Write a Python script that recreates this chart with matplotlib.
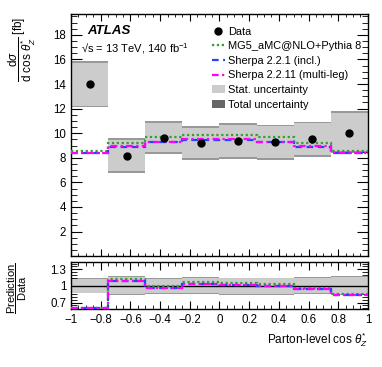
import numpy as np
import matplotlib
matplotlib.use("Agg")
import matplotlib.pyplot as plt
from matplotlib.ticker import MultipleLocator, FixedLocator
from matplotlib.lines import Line2D
from matplotlib.patches import Patch

plt.rcParams['font.family'] = ['Liberation Sans', 'DejaVu Sans']
plt.rcParams['mathtext.fontset'] = 'custom'
plt.rcParams['mathtext.rm'] = 'Liberation Sans'
plt.rcParams['mathtext.it'] = 'Liberation Sans:italic'

bin_edges = [-1.0, -0.75, -0.5, -0.25, 0.0, 0.25, 0.5, 0.75, 1.0]
data = [14.0, 8.15, 9.65, 9.17, 9.38, 9.3, 9.5, 10.05]
stat_up = [15.75, 9.45, 10.85, 10.45, 10.65, 10.55, 10.8, 11.65]
stat_dn = [12.25, 6.95, 8.45, 7.95, 8.05, 8.0, 8.25, 8.55]
tot_up = [15.9, 9.6, 11.0, 10.6, 10.8, 10.7, 10.95, 11.8]
tot_dn = [12.1, 6.8, 8.3, 7.8, 7.9, 7.85, 8.1, 8.4]
mg5 = [8.55, 9.22, 9.68, 9.86, 9.86, 9.68, 9.22, 8.55]
sherpa221 = [8.35, 8.9, 9.27, 9.48, 9.48, 9.27, 8.9, 8.35]
sherpa2211 = [8.38, 8.92, 9.3, 9.5, 9.5, 9.3, 8.92, 8.38]

edges = np.array(bin_edges)
centers = 0.5 * (edges[:-1] + edges[1:])
d = np.array(data)

C_STAT = '#cccccc'
C_MG5 = '#33a02c'
C_S221 = '#2244ff'
C_S2211 = '#ff00ff'
LS_MG5 = (0, (1, 1.2))
LS_S221 = (0, (3, 2))
LS_S2211 = (0, (3, 1.5, 1, 1.5))

fig = plt.figure(figsize=(3.82, 3.67), dpi=100)
ax = fig.add_axes([0.186, 0.302, 0.777, 0.660])
rax = fig.add_axes([0.186, 0.158, 0.777, 0.128])

def band(a, lo, hi, color, z):
    for i in range(len(lo)):
        a.fill_between([edges[i], edges[i+1]], lo[i], hi[i], color=color,
                       lw=0, zorder=z)

band(ax, tot_dn, tot_up, '#999999', 1)
band(ax, stat_dn, stat_up, C_STAT, 2)

ax.stairs(mg5, edges, color=C_MG5, lw=1.6, ls=LS_MG5, baseline=None, zorder=3)
ax.stairs(sherpa221, edges, color=C_S221, lw=1.6, ls=LS_S221, baseline=None, zorder=4)
ax.stairs(sherpa2211, edges, color=C_S2211, lw=1.6, ls=LS_S2211, baseline=None, zorder=5)
ax.plot(centers, d, 'o', color='black', ms=5, zorder=6)

ax.set_xlim(-1, 1)
ax.set_ylim(0, 19.7)
ax.yaxis.set_major_locator(FixedLocator([2, 4, 6, 8, 10, 12, 14, 16, 18]))
ax.yaxis.set_minor_locator(MultipleLocator(0.5))
ax.xaxis.set_major_locator(MultipleLocator(0.2))
ax.xaxis.set_minor_locator(MultipleLocator(0.05))
ax.tick_params(axis='both', which='both', direction='in', top=True, right=True, labelsize=8.3)
ax.tick_params(axis='y', which='major', length=8)
ax.tick_params(axis='y', which='minor', length=4)
ax.tick_params(axis='x', which='major', length=5)
ax.tick_params(axis='x', which='minor', length=2.5)
ax.tick_params(axis='x', labelbottom=False)
ax.set_ylabel(r'$\dfrac{\mathrm{d}\sigma}{\mathrm{d\ cos\ }\theta^{*}_{Z}}$ [fb]', fontsize=8.5)
ax.yaxis.set_label_coords(-0.11, 0.855)

ax.text(0.055, 0.917, 'ATLAS', transform=ax.transAxes, fontsize=9.5, fontweight='bold', style='italic')
ax.text(0.035, 0.84, '\u221As = 13 TeV, 140 fb$^{-1}$', transform=ax.transAxes, fontsize=8)

handles = [
    Line2D([], [], marker='o', color='black', ls='none', ms=5),
    Line2D([], [], color=C_MG5, lw=1.6, ls=LS_MG5),
    Line2D([], [], color=C_S221, lw=1.6, ls=LS_S221),
    Line2D([], [], color=C_S2211, lw=1.6, ls=LS_S2211),
    Patch(facecolor=C_STAT, edgecolor='none'),
    Patch(facecolor='#666666', edgecolor='none'),
]
labels = ['Data', 'MG5_aMC@NLO+Pythia 8', 'Sherpa 2.2.1 (incl.)',
          'Sherpa 2.2.11 (multi-leg)', 'Stat. uncertainty', 'Total uncertainty']
ax.legend(handles, labels, loc='upper right', bbox_to_anchor=(1.0, 0.975), frameon=False,
          fontsize=7.9, handlelength=1.2, handletextpad=0.3, labelspacing=0.42,
          borderaxespad=0.2)

# ratio panel
band(rax, np.array(tot_dn) / d, np.array(tot_up) / d, '#999999', 1)
band(rax, np.array(stat_dn) / d, np.array(stat_up) / d, C_STAT, 2)
rax.axhline(1.0, color='black', lw=1.0, zorder=3)
rax.stairs(np.array(mg5) / d, edges, color=C_MG5, lw=1.6, ls=LS_MG5, baseline=None, zorder=4)
rax.stairs(np.array(sherpa221) / d, edges, color=C_S221, lw=1.6, ls=LS_S221, baseline=None, zorder=5)
rax.stairs(np.array(sherpa2211) / d, edges, color=C_S2211, lw=1.6, ls=LS_S2211, baseline=None, zorder=6)
rax.set_xlim(-1, 1)
rax.set_ylim(0.585, 1.43)
rax.yaxis.set_major_locator(FixedLocator([0.7, 1.0, 1.3]))
rax.yaxis.set_major_formatter(matplotlib.ticker.FixedFormatter(['0.7', '1', '1.3']))
rax.yaxis.set_minor_locator(MultipleLocator(0.05))
rax.xaxis.set_major_locator(MultipleLocator(0.2))
rax.xaxis.set_minor_locator(MultipleLocator(0.05))
rax.xaxis.set_major_formatter(matplotlib.ticker.FuncFormatter(
    lambda v, p: ('\u2212' if v < -1e-9 else '') + ('%g' % abs(round(v, 2)))))
rax.tick_params(axis='both', which='both', direction='in', top=True, right=True, labelsize=8.3)
rax.tick_params(axis='y', which='major', length=8)
rax.tick_params(axis='y', which='minor', length=4)
rax.tick_params(axis='x', which='major', length=6)
rax.tick_params(axis='x', which='minor', length=3)
rax.set_ylabel(r'$\dfrac{\mathrm{Prediction}}{\mathrm{Data}}$', fontsize=8)
rax.yaxis.set_label_coords(-0.14, 0.45)
rax.set_xlabel(r'Parton-level cos $\theta^{*}_{Z}$', fontsize=8.5, loc='right', labelpad=3)

for a in (ax, rax):
    for s in a.spines.values():
        s.set_linewidth(1.0)

fig.savefig('out.png', dpi=100)
